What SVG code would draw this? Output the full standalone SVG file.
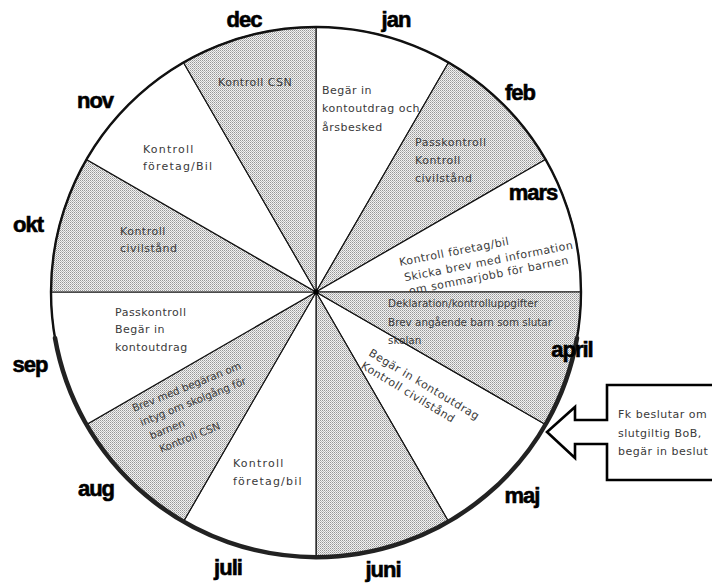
<svg xmlns="http://www.w3.org/2000/svg" width="712" height="587" viewBox="0 0 712 587">
<defs>
<pattern id="dots" patternUnits="userSpaceOnUse" width="2" height="2">
<rect width="2" height="2" fill="#f2f2f2"/>
<rect x="0" y="0" width="1" height="1" fill="#979797"/>
<rect x="1" y="1" width="1" height="1" fill="#bababa"/>
</pattern>
</defs>
<style>
.sec{stroke:#111;stroke-width:1.2;stroke-linejoin:round}
.sh{fill:url(#dots)}
.wh{fill:#fff}
.t{font-family:"DejaVu Sans",sans-serif;font-size:11px;fill:#3a3a3a;letter-spacing:0.5px}
.w{letter-spacing:1.2px}
.n{font-size:10.4px;letter-spacing:0}
.m{font-family:"Liberation Sans",Arial,sans-serif;font-size:22px;font-weight:bold;fill:#000;stroke:#000;stroke-width:0.6;text-anchor:middle;letter-spacing:-1px}
.rim{fill:none;stroke:#111;stroke-width:2.4}
.rimb{fill:none;stroke:#222;stroke-width:4.5;stroke-linecap:round}
.call{fill:#fff;stroke:#000;stroke-width:2.6;stroke-linejoin:miter}
</style>
<rect width="712" height="587" fill="#fff"/>

<g id="sector-jan"><path class="sec wh" d="M316 292 L316 27 A265 265 0 0 1 448.5 62.5 Z"/>
<text class="t" x="322" y="94">Begär in</text><text class="t" x="322" y="112">kontoutdrag och</text><text class="t" x="322" y="131">årsbesked</text></g>
<g id="sector-feb"><path class="sec sh" d="M316 292 L448.5 62.5 A265 265 0 0 1 545.5 159.5 Z"/>
<text class="t" x="415" y="146">Passkontroll</text><text class="t" x="415" y="164">Kontroll</text><text class="t" x="415" y="182">civilstånd</text></g>
<g id="sector-mars"><path class="sec wh" d="M316 292 L545.5 159.5 A265 265 0 0 1 581 292 Z"/>
<g transform="translate(400,266) rotate(-11)"><text class="t" x="0" y="0">Kontroll företag/bil</text><text class="t" x="2" y="16">Skicka brev med information</text><text class="t" x="4" y="30">om sommarjobb för barnen</text></g></g>
<g id="sector-maj"><path class="sec wh" d="M316 292 L545.5 424.5 A265 265 0 0 1 448.5 521.5 Z"/>
<g transform="translate(368,355) rotate(31)"><text class="t" x="0" y="0">Begär in kontoutdrag</text><text class="t" x="0" y="15">Kontroll civilstånd</text></g></g>
<g id="sector-april"><path class="sec sh" d="M316 292 L581 292 A265 265 0 0 1 545.5 424.5 Z"/>
<text class="t n" x="388" y="307">Deklaration/kontrolluppgifter</text><text class="t n" x="388" y="326">Brev angående barn som slutar</text><text class="t n" x="388" y="344">skolan</text></g>
<g id="sector-juni"><path class="sec sh" d="M316 292 L448.5 521.5 A265 265 0 0 1 316 557 Z"/></g>
<g id="sector-juli"><path class="sec wh" d="M316 292 L316 557 A265 265 0 0 1 183.5 521.5 Z"/>
<text class="t w" x="233" y="467">Kontroll</text><text class="t w" x="233" y="485">företag/bil</text></g>
<g id="sector-aug"><path class="sec sh" d="M316 292 L183.5 521.5 A265 265 0 0 1 86.5 424.5 Z"/>
<g transform="translate(134,412) rotate(-22)"><text class="t n" x="0" y="0">Brev med begäran om</text><text class="t n" x="2" y="16">intyg om skolgång för</text><text class="t n" x="6" y="32">barnen</text><text class="t n" x="10" y="48">Kontroll CSN</text></g></g>
<g id="sector-sep"><path class="sec wh" d="M316 292 L86.5 424.5 A265 265 0 0 1 51 292 Z"/>
<text class="t" x="115" y="316">Passkontroll</text><text class="t" x="115" y="333">Begär in</text><text class="t" x="115" y="351">kontoutdrag</text></g>
<g id="sector-okt"><path class="sec sh" d="M316 292 L51 292 A265 265 0 0 1 86.5 159.5 Z"/>
<text class="t" x="120" y="235">Kontroll</text><text class="t" x="120" y="252">civilstånd</text></g>
<g id="sector-nov"><path class="sec wh" d="M316 292 L86.5 159.5 A265 265 0 0 1 183.5 62.5 Z"/>
<text class="t w" x="143" y="153">Kontroll</text><text class="t w" x="143" y="170">företag/Bil</text></g>
<g id="sector-dec"><path class="sec sh" d="M316 292 L183.5 62.5 A265 265 0 0 1 316 27 Z"/>
<text class="t" x="218" y="86">Kontroll CSN</text></g>

<g id="connectors"><circle class="rim" cx="316" cy="292" r="265"/><path class="rimb" d="M577 338 A265 265 0 0 1 55 338"/><circle cx="316" cy="292" r="2.5" fill="#000"/></g>

<g id="labels">
<text class="m" x="244" y="27">dec</text>
<text class="m" x="396" y="27">jan</text>
<text class="m" x="520" y="100">feb</text>
<text class="m" x="533" y="200">mars</text>
<text class="m" x="572" y="357">april</text>
<text class="m" x="522" y="503">maj</text>
<text class="m" x="383" y="577">juni</text>
<text class="m" x="228" y="575">juli</text>
<text class="m" x="96" y="496">aug</text>
<text class="m" x="30" y="372">sep</text>
<text class="m" x="28" y="232">okt</text>
<text class="m" x="95" y="108">nov</text>
</g>

<g id="callout">
<path class="call" d="M716 385 L607 385 L607 420 L575 420 L575 407 L547 432 L575 458 L575 444 L607 444 L607 480 L716 480"/>
<text class="t" x="618" y="418">Fk beslutar om</text>
<text class="t" x="618" y="437">slutgiltig BoB,</text>
<text class="t" x="618" y="455">begär in beslut</text>
</g>
</svg>
